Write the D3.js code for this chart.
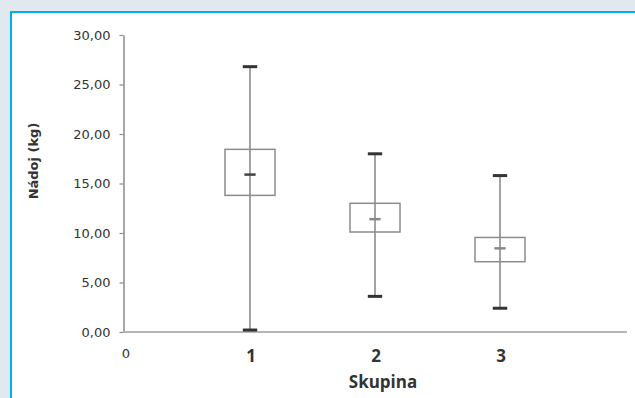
<!DOCTYPE html>
<html>
<head>
<meta charset="utf-8">
<script src="https://cdn.jsdelivr.net/npm/d3@7"></script>
<style>
  html, body { margin: 0; padding: 0; background: #dfe9ef; }
  svg { display: block; }
</style>
</head>
<body>
<svg id="chart" width="635" height="398"></svg>
<script>
// data
const groups = [1, 2, 3];
const whiskerLow = [0.2, 3.6, 2.4];
const q1 = [13.8, 10.1, 7.1];
const medians = [15.9, 11.4, 8.45];
const q3 = [18.45, 13.0, 9.55];
const whiskerHigh = [26.8, 18.0, 15.8];
const yTicks = [0, 5, 10, 15, 20, 25, 30];
const xTicks = [0, 1, 2, 3];

const svg = d3.select("#chart");

// panel frame: light band, blue rule, white plot area
svg.append("rect").attr("x", 0).attr("y", 0).attr("width", 635).attr("height", 398).attr("fill", "#dfe9ef");
svg.append("rect").attr("x", 10).attr("y", 11).attr("width", 625).attr("height", 387).attr("fill", "#00aeef");
svg.append("rect").attr("x", 12).attr("y", 13).attr("width", 623).attr("height", 385).attr("fill", "#fff");

const x = d3.scaleLinear().domain([0, 4]).range([125, 625]);
const y = d3.scaleLinear().domain([0, 30]).range([332, 35]);
const axisX = 123.5;
const tickFont = "DejaVu Sans, sans-serif";

// y axis
const yAxis = svg.append("g")
    .attr("transform", `translate(${axisX},0)`)
    .call(d3.axisLeft(y).tickValues(yTicks).tickSize(4).tickSizeOuter(0).tickPadding(9)
        .tickFormat(d => d3.format(".2f")(d).replace(".", ",")));
yAxis.select(".domain").attr("stroke", "#8a8a8a").attr("stroke-width", 1.5);
yAxis.selectAll(".tick line").attr("stroke", "#8a8a8a").attr("stroke-width", 1.2);
yAxis.selectAll(".tick text")
    .attr("fill", "#333").attr("font-family", tickFont).attr("font-size", 13);

// x axis line
svg.append("line")
    .attr("x1", axisX).attr("x2", 627)
    .attr("y1", y(0)).attr("y2", y(0))
    .attr("stroke", "#b5b5b5").attr("stroke-width", 2);

// x tick labels
svg.selectAll(".xlab").data(xTicks).join("text")
    .attr("class", "xlab")
    .attr("x", d => x(d) + 1)
    .attr("y", d => d === 0 ? 358 : 362)
    .attr("text-anchor", "middle")
    .attr("fill", "#333")
    .attr("font-family", d => d === 0 ? tickFont : "Open Sans, sans-serif")
    .attr("font-weight", d => d === 0 ? "normal" : "bold")
    .attr("font-size", d => d === 0 ? 13 : 17)
    .text(d => d);

// axis titles
svg.append("text")
    .attr("x", x(2) + 8).attr("y", 388)
    .attr("text-anchor", "middle")
    .attr("fill", "#333")
    .attr("font-family", "Open Sans, sans-serif").attr("font-weight", "bold").attr("font-size", 17)
    .text("Skupina");

svg.append("text")
    .attr("transform", "translate(38,161) rotate(-90)")
    .attr("text-anchor", "middle")
    .attr("fill", "#333")
    .attr("font-family", tickFont).attr("font-weight", "bold").attr("font-size", 13)
    .text("Nádoj (kg)");

// boxes
const boxW = 0.4, capW = 0.115, medW = 0.09;
const idx = d3.range(groups.length);
const plot = svg.append("g");

plot.selectAll(".box").data(idx).join("rect")
    .attr("class", "box")
    .attr("x", i => x(groups[i] - boxW / 2))
    .attr("width", x(boxW) - x(0))
    .attr("y", i => y(q3[i]))
    .attr("height", i => y(q1[i]) - y(q3[i]))
    .attr("fill", "none").attr("stroke", "#8c8c8c").attr("stroke-width", 1.5);

plot.selectAll(".whisker").data(idx).join("line")
    .attr("class", "whisker")
    .attr("x1", i => x(groups[i])).attr("x2", i => x(groups[i]))
    .attr("y1", i => y(whiskerLow[i])).attr("y2", i => y(whiskerHigh[i]))
    .attr("stroke", "#8c8c8c").attr("stroke-width", 1.6);

const caps = idx.flatMap(i => [{ g: groups[i], v: whiskerLow[i] }, { g: groups[i], v: whiskerHigh[i] }]);
plot.selectAll(".cap").data(caps).join("line")
    .attr("class", "cap")
    .attr("x1", d => x(d.g - capW / 2)).attr("x2", d => x(d.g + capW / 2))
    .attr("y1", d => y(d.v)).attr("y2", d => y(d.v))
    .attr("stroke", "#333").attr("stroke-width", 3);

plot.selectAll(".median").data(idx).join("line")
    .attr("class", "median")
    .attr("x1", i => x(groups[i] - medW / 2)).attr("x2", i => x(groups[i] + medW / 2))
    .attr("y1", i => y(medians[i])).attr("y2", i => y(medians[i]))
    .attr("stroke", i => i === 0 ? "#444" : "#888").attr("stroke-width", 2.5);
</script>
</body>
</html>
